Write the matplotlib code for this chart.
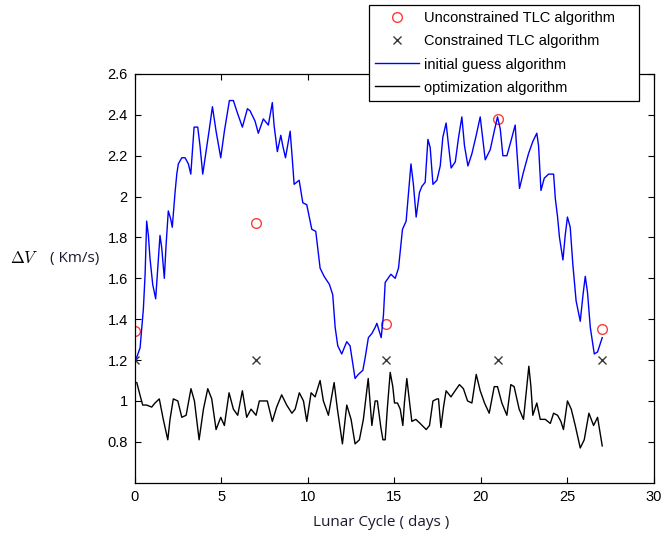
import numpy as np
import matplotlib
matplotlib.use('Agg')
import matplotlib.pyplot as plt

# initial guess algorithm: delta-V (km/s) over the lunar cycle (days)
guess_days = [0.10, 0.31, 0.50, 0.60, 0.69, 0.79, 0.88, 1.04, 1.21, 1.33, 1.46, 1.56, 1.71, 1.81,
              1.94, 2.08, 2.17, 2.33, 2.43, 2.52, 2.72, 2.91, 3.10, 3.24, 3.43, 3.64, 3.77, 3.93,
              4.12, 4.31, 4.49, 4.70, 4.97, 5.18, 5.47, 5.70, 5.93, 6.22, 6.51, 6.66, 6.95, 7.14,
              7.43, 7.72, 7.95, 8.05, 8.24, 8.44, 8.55, 8.71, 8.88, 8.98, 9.09, 9.21, 9.36, 9.50,
              9.71, 9.94, 10.23, 10.46, 10.71, 10.94, 11.25, 11.44, 11.58, 11.73, 11.96, 12.25,
              12.44, 12.73, 12.92, 13.18, 13.31, 13.50, 13.70, 13.89, 13.99, 14.24, 14.37, 14.47,
              14.80, 15.05, 15.24, 15.47, 15.68, 15.82, 15.96, 16.10, 16.26, 16.45, 16.59, 16.78,
              16.94, 17.07, 17.23, 17.46, 17.65, 17.80, 17.99, 18.13, 18.28, 18.52, 18.71, 18.90,
              19.05, 19.25, 19.48, 19.73, 19.96, 20.25, 20.54, 20.77, 20.96, 21.12, 21.27, 21.50,
              21.73, 21.98, 22.08, 22.23, 22.46, 22.75, 23.00, 23.23, 23.33, 23.47, 23.66, 23.91,
              24.20, 24.30, 24.43, 24.54, 24.74, 24.87, 25.00, 25.16, 25.31, 25.50, 25.74, 25.90,
              26.03, 26.16, 26.32, 26.55, 26.74, 27.01]
guess_dv = [1.21, 1.26, 1.45, 1.62, 1.88, 1.81, 1.70, 1.57, 1.50, 1.65, 1.81, 1.75, 1.60, 1.76,
            1.93, 1.89, 1.85, 2.02, 2.11, 2.16, 2.19, 2.19, 2.16, 2.11, 2.34, 2.34, 2.25, 2.11,
            2.22, 2.33, 2.44, 2.32, 2.19, 2.32, 2.47, 2.47, 2.41, 2.34, 2.43, 2.42, 2.37, 2.31,
            2.38, 2.35, 2.46, 2.35, 2.22, 2.30, 2.25, 2.19, 2.27, 2.32, 2.20, 2.06, 2.07, 2.08,
            1.97, 1.96, 1.84, 1.83, 1.65, 1.61, 1.57, 1.52, 1.36, 1.27, 1.23, 1.29,
            1.27, 1.11, 1.13, 1.15, 1.21, 1.31, 1.33, 1.36, 1.38, 1.31, 1.42, 1.58,
            1.62, 1.60, 1.65, 1.84, 1.88, 2.02, 2.16, 2.06, 1.90, 2.02, 2.05, 2.07,
            2.28, 2.24, 2.06, 2.08, 2.15, 2.29, 2.36, 2.25, 2.14, 2.17, 2.29, 2.39,
            2.25, 2.15, 2.21, 2.30, 2.39, 2.18, 2.23, 2.32, 2.39, 2.33, 2.20, 2.20,
            2.27, 2.35, 2.22, 2.04, 2.12, 2.21, 2.27, 2.31, 2.25, 2.03, 2.09, 2.11,
            2.11, 1.99, 1.90, 1.80, 1.69, 1.81, 1.90, 1.85, 1.67, 1.49, 1.39, 1.52,
            1.61, 1.53, 1.36, 1.23, 1.24, 1.31]

# optimization algorithm
opt_days = [0.12, 0.27, 0.46, 0.69, 0.98, 1.17, 1.42, 1.65, 1.91, 2.04, 2.23, 2.49, 2.72, 2.97,
            3.25, 3.45, 3.72, 3.97, 4.22, 4.45, 4.70, 4.97, 5.18, 5.45, 5.70, 5.95, 6.22, 6.47,
            6.72, 7.01, 7.20, 7.43, 7.66, 7.95, 8.20, 8.49, 8.78, 9.08, 9.27, 9.51, 9.75, 9.94,
            10.19, 10.42, 10.71, 10.90, 11.19, 11.52, 11.71, 12.00, 12.25, 12.50, 12.73, 12.98,
            13.21, 13.49, 13.70, 13.89, 14.02, 14.22, 14.34, 14.47, 14.60, 14.76, 14.91, 15.01,
            15.18, 15.34, 15.49, 15.58, 15.72, 15.87, 16.01, 16.24, 16.49, 16.84, 17.03, 17.23,
            17.46, 17.55, 17.69, 17.84, 17.99, 18.27, 18.51, 18.76, 18.99, 19.23, 19.48, 19.73,
            19.96, 20.21, 20.48, 20.77, 20.96, 21.21, 21.50, 21.73, 21.92, 22.21, 22.46, 22.77,
            22.89, 23.00, 23.23, 23.43, 23.72, 24.01, 24.20, 24.43, 24.62, 24.77, 25.00, 25.22,
            25.45, 25.74, 25.97, 26.24, 26.51, 26.74, 27.01]
opt_dv = [1.09, 1.04, 0.98, 0.98, 0.97, 0.99, 1.01, 0.91, 0.81, 0.91, 1.01, 1.00, 0.92, 0.93,
          1.06, 1.00, 0.81, 0.96, 1.06, 1.01, 0.86, 0.92, 0.88, 1.04, 0.96, 0.93, 1.05, 0.92,
          0.96, 0.93, 1.00, 1.00, 1.00, 0.90, 0.97, 1.03, 0.98, 0.94, 0.96, 1.04, 1.00, 0.90,
          1.04, 1.02, 1.10, 1.00, 0.93, 1.09, 0.96, 0.79, 0.98, 0.91, 0.79, 0.81,
          0.91, 1.11, 0.88, 1.00, 1.00, 0.87, 0.81, 0.81, 0.97, 1.14, 1.07, 0.99,
          0.99, 0.96, 0.88, 0.99, 1.11, 1.00, 0.90, 0.91, 0.89, 0.86, 0.88, 1.00,
          1.01, 1.01, 0.87, 0.97, 1.05, 1.02, 1.05, 1.08, 1.06, 1.00, 0.99, 1.13,
          1.05, 0.99, 0.94, 1.07, 1.07, 0.99, 0.93, 1.08, 1.07, 0.96, 0.91, 1.17,
          1.07, 0.93, 0.99, 0.91, 0.91, 0.89, 0.94, 0.93, 0.90, 0.86, 1.00, 0.96,
          0.88, 0.77, 0.81, 0.94, 0.88, 0.92, 0.78]

# TLC results at the five sample epochs
tlc_days = [0, 7, 14.5, 21, 27]
unconstrained_dv = [1.34, 1.87, 1.375, 2.38, 1.35]
constrained_dv = [1.2, 1.2, 1.2, 1.2, 1.2]

x_ticks = [0, 5, 10, 15, 20, 25, 30]
y_ticks = [0.8, 1.0, 1.2, 1.4, 1.6, 1.8, 2.0, 2.2, 2.4, 2.6]
y_ticklabels = ['0.8', '1', '1.2', '1.4', '1.6', '1.8', '2', '2.2', '2.4', '2.6']

plt.rcParams['font.family'] = ['Liberation Sans', 'DejaVu Sans']

fig = plt.figure(figsize=(6.62, 5.40), dpi=100)
ax = fig.add_axes([0.2035, 0.1061, 0.7844, 0.7569])

ax.plot(tlc_days, unconstrained_dv, 'o', color='#ff3b3b', markerfacecolor='none',
        markersize=7, markeredgewidth=1.0, label='Unconstrained TLC algorithm')
ax.plot(tlc_days, constrained_dv, 'x', color='#3a3a3a', markersize=5.5,
        markeredgewidth=1.0, label='Constrained TLC algorithm')
ax.plot(guess_days, guess_dv, color='#0000ff', lw=1.0, label='initial guess algorithm')
ax.plot(opt_days, opt_dv, color='black', lw=1.0, label='optimization algorithm')

ax.set_xlim(0, 30)
ax.set_ylim(0.6, 2.6)
ax.set_xticks(x_ticks)
ax.set_yticks(y_ticks)
ax.set_yticklabels(y_ticklabels)
ax.tick_params(direction='in', length=4, width=0.8, top=True, right=True,
               labelsize=10.5, colors='black', pad=5)
for s in ax.spines.values():
    s.set_linewidth(0.9)

# axis labels drawn as figure text, the y label sits horizontally
fig.text(0.576, 0.0315, 'Lunar Cycle ( days )', fontsize=11, family='Open Sans',
         color='#1a1a2e', ha='center', va='center')
fig.text(0.015, 0.522, r'$\Delta V$', fontsize=12, math_fontfamily='cm',
         ha='left', va='center')
fig.text(0.0755, 0.522, '( Km/s)', fontsize=11, family='Open Sans',
         color='#1a1a2e', ha='left', va='center')

leg = ax.legend(loc='upper left', bbox_to_anchor=(0.557, 0.813, 0.408, 0.178),
                bbox_transform=fig.transFigure, mode='expand', borderaxespad=0,
                fontsize=10.5, handlelength=3.0, handletextpad=0.35, labelspacing=0.62,
                borderpad=0.45, fancybox=False, framealpha=1, edgecolor='black')
leg.get_frame().set_linewidth(0.9)

fig.savefig('out.png', dpi=100)
